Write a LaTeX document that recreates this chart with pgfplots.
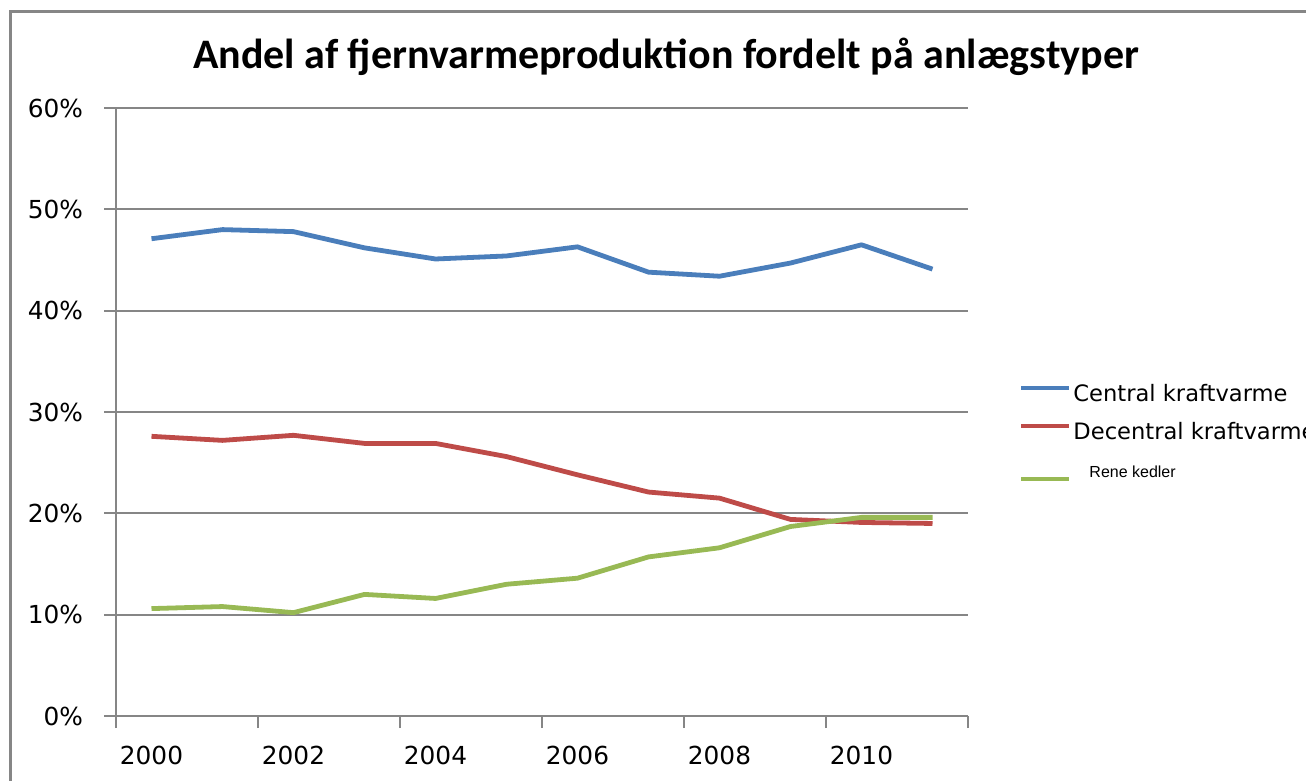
\documentclass[border=0pt]{standalone}
\usepackage{fontspec}
\setmainfont{DejaVu Sans}
\newfontfamily\titlefont{Carlito}
\newfontfamily\arialfont{Liberation Sans}
\usepackage{pgfplots}
\pgfplotsset{compat=1.18}

\definecolor{exblue}{HTML}{4A7EBB}
\definecolor{exred}{HTML}{BE4B48}
\definecolor{exgreen}{HTML}{98B954}
\definecolor{exgrid}{HTML}{868686}

\begin{document}
\begin{tikzpicture}
% 1 px of the reference = 0.5pt
\useasboundingbox (0,0) rectangle (653pt,390.5pt);
\draw[exgrid, line width=1.5pt] (5pt,-2pt) -- (5pt,384.5pt) -- (656pt,384.5pt);
\node at (333pt,362pt) {\titlefont\fontsize{21}{24}\selectfont\bfseries Andel af fjernvarmeproduktion fordelt på anlægstyper};
\begin{axis}[
    at={(58pt,32.5pt)}, anchor=south west,
    scale only axis, width=426pt, height=304pt,
    xmin=0, xmax=12, ymin=0, ymax=60,
    axis x line*=bottom, axis y line*=left,
    axis line style={exgrid, line width=0.9pt},
    xtick={0,2,4,6,8,10,12},
    xticklabels={2000,2002,2004,2006,2008,2010,{}},
    xticklabel style={xshift=17.75pt, yshift=-5.5pt},
    ytick={0,10,20,30,40,50,60},
    yticklabels={0\%,10\%,20\%,30\%,40\%,50\%,60\%},
    yticklabel style={xshift=-7pt},
    tick label style={font=\fontsize{12.4}{14}\selectfont},
    tick align=outside, major tick length=6pt,
    tick style={exgrid, line width=0.9pt},
    ymajorgrids, grid style={exgrid, line width=0.9pt},
    legend style={at={(1.0599,0.546)}, anchor=north west, draw=none,
        fill=none, inner sep=0pt, row sep=9pt,
        nodes={inner xsep=1pt, inner ysep=0pt, anchor=west}},
    legend cell align=left,
    legend image code/.code={\draw[#1, line width=2pt] (0pt,0.35em) -- (24pt,0.35em);},
    every axis plot/.append style={line width=2.4pt, line join=round},
    clip=false,
]
% Central kraftvarme
\addplot[exblue] coordinates {
(0.5,47.1) (1.5,48.0) (2.5,47.8) (3.5,46.2) (4.5,45.1) (5.5,45.4)
(6.5,46.3) (7.5,43.8) (8.5,43.4) (9.5,44.7) (10.5,46.5) (11.5,44.1)};
\addlegendentry{\fontsize{11.3}{13}\selectfont Central kraftvarme}
% Decentral kraftvarme
\addplot[exred] coordinates {
(0.5,27.6) (1.5,27.2) (2.5,27.7) (3.5,26.9) (4.5,26.9) (5.5,25.6)
(6.5,23.8) (7.5,22.1) (8.5,21.5) (9.5,19.4) (10.5,19.1) (11.5,19.0)};
\addlegendentry{\fontsize{11.3}{13}\selectfont Decentral kraftvarme}
% Rene kedler
\addplot[exgreen] coordinates {
(0.5,10.6) (1.5,10.8) (2.5,10.2) (3.5,12.0) (4.5,11.6) (5.5,13.0)
(6.5,13.6) (7.5,15.7) (8.5,16.6) (9.5,18.7) (10.5,19.6) (11.5,19.6)};
\addlegendentry{\rule{0pt}{24pt}\hspace{8pt}\raisebox{15.5pt}{\arialfont\fontsize{8}{10}\selectfont Rene kedler}}
\end{axis}
\end{tikzpicture}
\end{document}
